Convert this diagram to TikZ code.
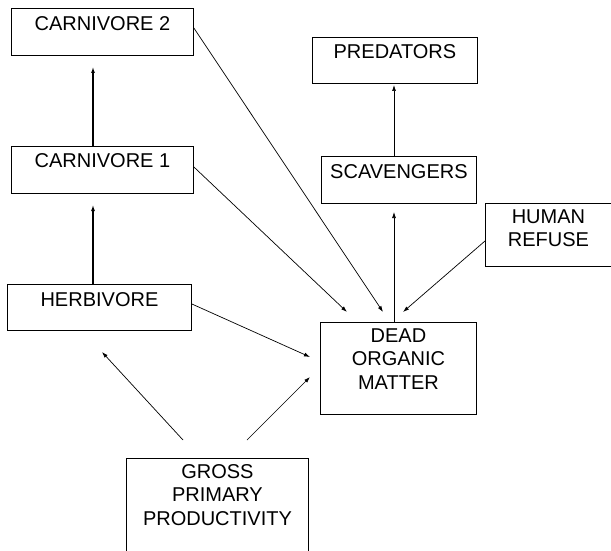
\documentclass[tikz,border=0pt]{standalone}
\usepackage{fontspec}
\setmainfont{Liberation Sans}
\usetikzlibrary{arrows.meta,calc}
\tikzset{
  box/.style={draw, line width=0.9pt, inner sep=0pt, anchor=north west, align=center,
    font=\fontsize{20}{23.5}\selectfont},
  arr/.style={line width=0.7pt, -{Latex[length=6pt,width=4pt]}},
  arrthick/.style={line width=1.1pt, -{Latex[length=6pt,width=4pt]}}
}
\begin{document}
\begin{tikzpicture}[x=1pt,y=-1pt]
\useasboundingbox (0,0) rectangle (611,551);
% boxes
\node[box, minimum width=182pt, text height=22pt, text depth=25pt] (c2) at (11,8) {CARNIVORE 2};
\node[box, minimum width=182pt, text height=21pt, text depth=26pt] (c1) at (11,146) {CARNIVORE 1};
\node[box, minimum width=184pt, text height=22pt, text depth=24pt] (herb) at (7,284) {HERBIVORE};
\node[box, minimum width=156pt, text height=67pt, text depth=25pt] (dom) at (320,322) {DEAD\\ORGANIC\\MATTER};
\node[box, minimum width=182pt, text height=67pt, text depth=30pt] (gpp) at (126,458) {GROSS\\PRIMARY\\PRODUCTIVITY};
\node[box, minimum width=165pt, text height=21pt, text depth=25pt] (pred) at (312,37) {PREDATORS};
\node[box, minimum width=155pt, text height=22pt, text depth=25pt] (scav) at (321,156) {SCAVENGERS};
\node[box, minimum width=126pt, text height=43.5pt, text depth=19.5pt] (hr) at (485,203) {HUMAN\\REFUSE};
% free ends
\coordinate (tc2) at (93,67);
\coordinate (tc1) at (93,205);
\coordinate (tpred) at (394,85);
\coordinate (tscav) at (394,212);
\coordinate (tdomA) at (383,312);
\coordinate (tdomB) at (347,312);
\coordinate (tdomC) at (310,357);
\coordinate (tdomD) at (403,312);
\coordinate (tdomE) at (310,377);
\coordinate (therb) at (102,352);
\coordinate (sg1) at (183,440);
\coordinate (sg2) at (247,440);
% connectors
\draw[arrthick] (c1.north -| tc2) -- (tc2);
\draw[arrthick] (herb.north -| tc1) -- (tc1);
\draw[arr] (scav.north -| tpred) -- (tpred);
\draw[arr] (dom.north -| tscav) -- (tscav);
\draw[arr] ($(c2.north east)+(0,20)$) -- (tdomA);
\draw[arr] ($(c1.north east)+(0,21)$) -- (tdomB);
\draw[arr] ($(herb.north east)+(0,20)$) -- (tdomC);
\draw[arr] ($(hr.north west)+(0,38)$) -- (tdomD);
\draw[arr] (sg1) -- (therb);
\draw[arr] (sg2) -- (tdomE);
\end{tikzpicture}
\end{document}
